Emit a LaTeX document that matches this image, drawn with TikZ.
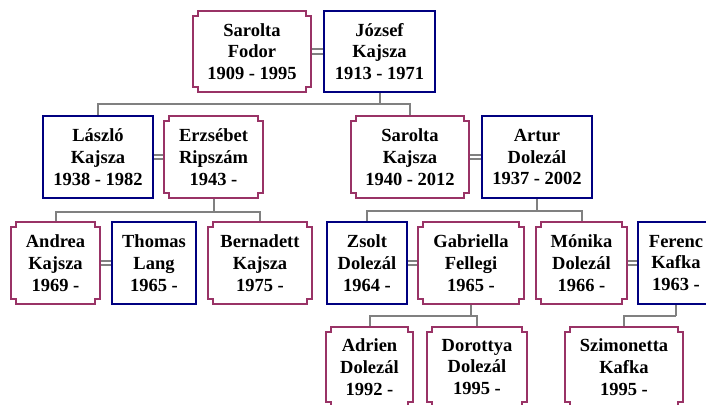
\documentclass[tikz,border=0pt]{standalone}
\usepackage{fontspec}
\setmainfont{Liberation Serif}
\usetikzlibrary{backgrounds}
\definecolor{femcol}{RGB}{153,51,102}
\definecolor{malecol}{RGB}{0,0,128}
\definecolor{linkcol}{RGB}{128,128,128}
\begin{document}
\begin{tikzpicture}[x=1pt,y=-1pt,
  person/.style={inner sep=0pt, outer sep=0pt, align=center,
    font=\bfseries\fontsize{18.5}{21.7}\selectfont},
  male/.style={person, draw=malecol, line width=2pt},
  female/.style={person},
  femline/.style={draw=femcol, line width=2pt},
  link/.style={draw=linkcol, line width=2pt},
  wed/.style={draw=linkcol, line width=1.8pt, double=white, double distance=2.6pt},
  r1/.style={minimum height=81pt},
  r2/.style={minimum height=82pt},
  r3/.style={minimum height=82pt},
  r4/.style={minimum height=80pt},
]
\useasboundingbox (0,0) rectangle (706,404);
\clip (0,0) rectangle (706,404);

% generation 1
\node[female, r1, minimum width=118pt] (sf) at (252,51.5) {Sarolta\\Fodor\\1909 - 1995};
\node[male,   r1, minimum width=111pt] (jk) at (379.5,51.5) {József\\Kajsza\\1913 - 1971};

% generation 2
\node[male,   r2, minimum width=110pt] (lk) at (98,157) {László\\Kajsza\\1938 - 1982};
\node[female, r2, minimum width=99pt]  (er) at (213.5,157) {Erzsébet\\Ripszám\\1943 -};
\node[female, r2, minimum width=118pt] (sk) at (410,157) {Sarolta\\Kajsza\\1940 - 2012};
\node[male,   r2, minimum width=110pt] (ar) at (537,157) {Artur\\Dolezál\\1937 - 2002};

% generation 3
\node[female, r3, minimum width=89pt]  (an) at (55.5,263) {Andrea\\Kajsza\\1969 -};
\node[male,   r3, minimum width=84pt]  (tl) at (154,263) {Thomas\\Lang\\1965 -};
\node[female, r3, minimum width=104pt] (bk) at (260,263) {Bernadett\\Kajsza\\1975 -};
\node[male,   r3, minimum width=80pt]  (zd) at (367,263) {Zsolt\\Dolezál\\1964 -};
\node[female, r3, minimum width=106pt] (gf) at (471,263) {Gabriella\\Fellegi\\1965 -};
\node[female, r3, minimum width=91pt]  (md) at (581.5,263) {Mónika\\Dolezál\\1966 -};
\node[male,   r3, minimum width=76pt]  (fk) at (676,263) {Ferenc\\Kafka\\1963 -};

% generation 4
\node[female, r4, minimum width=87pt]  (adr) at (369.5,367) {Adrien\\Dolezál\\1992 -};
\node[female, r4, minimum width=100pt] (dor) at (477,367) {Dorottya\\Dolezál\\1995 -};
\node[female, r4, minimum width=118pt] (szi) at (624,367) {Szimonetta\\Kafka\\1995 -};

% notched outlines of the female boxes
\foreach \n in {sf,er,sk,an,bk,gf,md,adr,dor,szi}{
  \draw[femline] ([yshift=-5pt]\n.north west) -- ++(5pt,0) -- ++(0,5pt)
    -- ([xshift=-5pt]\n.north east) -- ++(0,-5pt) -- ++(5pt,0)
    -- ([yshift=5pt]\n.south east) -- ++(-5pt,0) -- ++(0,-5pt)
    -- ([xshift=5pt]\n.south west) -- ++(0,5pt) -- ++(-5pt,0) -- cycle;
}

\begin{scope}[on background layer]
  % marriages
  \draw[wed] (sf.east) -- (jk.west);
  \draw[wed] (lk.east) -- (er.west);
  \draw[wed] (sk.east) -- (ar.west);
  \draw[wed] (an.east) -- (tl.west);
  \draw[wed] (zd.east) -- (gf.west);
  \draw[wed] (md.east) -- (fk.west);
  % descent
  \draw[link] (jk.south) -- ++(0,12) coordinate (b1);
  \draw[link] (lk.north) |- (b1) -| (sk.north);
  \draw[link] (er.south) -- ++(0,14) coordinate (b2);
  \draw[link] (an.north) |- (b2) -| (bk.north);
  \draw[link] (ar.south) -- ++(0,13) coordinate (b3);
  \draw[link] (zd.north) |- (b3) -| (md.north);
  \draw[link] (gf.south) -- ++(0,12) coordinate (b4);
  \draw[link] (adr.north) |- (b4) -| (dor.north);
  \draw[link] (fk.south) -- ++(0,12) coordinate (b5);
  \draw[link] (szi.north) |- (b5);
\end{scope}
\end{tikzpicture}
\end{document}
